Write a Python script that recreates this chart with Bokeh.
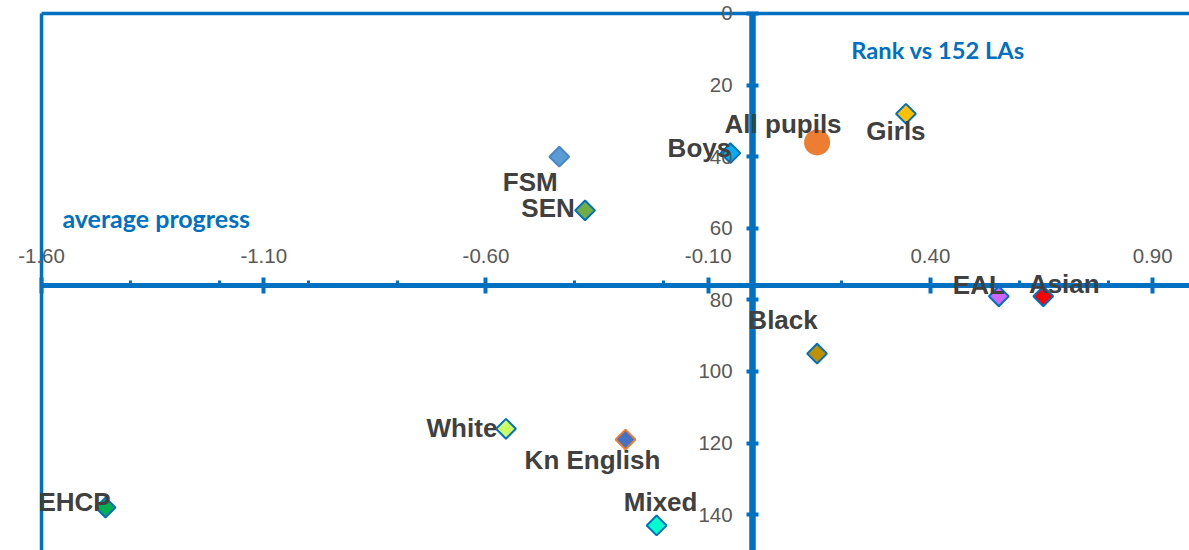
import math
from bokeh.plotting import figure
from bokeh.models import (ColumnDataSource, Range1d, LinearAxis, FixedTicker,
                          PrintfTickFormatter, Label)
from bokeh.core.properties import value
from bokeh.embed import file_html
from bokeh.resources import INLINE

# ---- data ----
groups = ["Boys", "Girls", "FSM", "SEN", "EHCP", "White", "Kn English",
          "Mixed", "Black", "EAL", "Asian"]
avg_progress = [-0.05, 0.345, -0.435, -0.377, -1.456, -0.555, -0.286,
                -0.216, 0.145, 0.554, 0.654]
rank = [39, 28, 40, 55, 138, 116, 119, 143, 95, 79, 79]

all_label = ["All pupils"]
all_progress = [0.145]
all_rank = [36]

x_ticks = [-1.6, -1.1, -0.6, -0.1, 0.4, 0.9]
x_minor = [-1.4, -1.2, -1.0, -0.8, -0.4, -0.2, 0.0, 0.2, 0.6, 0.8]
y_ticks = [0, 20, 40, 60, 80, 100, 120, 140]
x_min, x_max = -1.6, 0.983     # plot-area extent (visible part)
y_min, y_max = 0, 150
x_cross, y_cross = 0, 76        # where the axes cross

# ---- styles (separate from data) ----
fills = ["#00B0F0", "#FFC000", "#5B9BD5", "#70AD47", "#00B050", "#CCFF66",
         "#4472C4", "#00FFCC", "#BF9000", "#CC66FF", "#FF0000"]
lines = ["#0070C0", "#0070C0", "#4A86C5", "#0070C0", "#0070C0", "#0070C0",
         "#ED7D31", "#0070C0", "#0070C0", "#0070C0", "#0070C0"]
# label offsets in screen pixels (dx, dy-down)
lab_dx = [-31, -10, -29, -37, -31, -44, -33, 4, -34, -20, 21]
lab_dy = [-5, 17, 25, -2, -6, -1, 20, -23, -34, -11, -12]
all_dx = [-34]
all_dy = [-18]

BLUE = "#0070C0"
PAD_X = 0.0923   # room left of the plot area for the first tick label
PAD_Y = 3.63     # room above the plot area for the "0" label

p = figure(width=1189, height=550, output_backend="svg", toolbar_location=None,
           x_range=Range1d(x_min - PAD_X, x_max),
           y_range=Range1d(y_max, y_min - PAD_Y),
           x_axis_location=None, y_axis_location=None,
           min_border_left=0, min_border_top=0, min_border_right=0,
           min_border_bottom=0)
p.outline_line_color = None
p.xgrid.visible = False
p.ygrid.visible = False
p.background_fill_color = "white"
p.border_fill_color = "white"

# plot-area border (top and left visible)
p.segment(x0=[x_min, x_min], y0=[y_min, y_min], x1=[x_max, x_min],
          y1=[y_min, y_max], line_color=BLUE, line_width=3.5)

lab_font = dict(major_label_text_font="Liberation Sans",
                major_label_text_font_size="20.5px",
                major_label_text_color="#595959")

xaxis = LinearAxis(fixed_location=y_cross, bounds=(x_min, x_max),
                   ticker=FixedTicker(ticks=x_ticks, minor_ticks=x_minor),
                   formatter=PrintfTickFormatter(format="%.2f"),
                   axis_line_color=BLUE, axis_line_width=5,
                   major_tick_line_color=BLUE, major_tick_line_width=4,
                   major_tick_in=8, major_tick_out=8,
                   minor_tick_line_color=BLUE, minor_tick_line_width=3,
                   minor_tick_in=0, minor_tick_out=5,
                   major_label_standoff=15, **lab_font)
p.add_layout(xaxis, "above")

yaxis = LinearAxis(fixed_location=x_cross, bounds=(y_min, y_max),
                   ticker=FixedTicker(ticks=y_ticks, minor_ticks=[]),
                   axis_line_color=BLUE, axis_line_width=6.5,
                   major_tick_line_color=BLUE, major_tick_line_width=4,
                   major_tick_in=6, major_tick_out=6,
                   minor_tick_in=0, minor_tick_out=0,
                   major_label_standoff=14, **lab_font)
p.add_layout(yaxis, "left")

src = ColumnDataSource(dict(x=avg_progress, y=rank, name=groups, fill=fills,
                            line=lines, dx=lab_dx, dy=lab_dy))
all_src = ColumnDataSource(dict(x=all_progress, y=all_rank, name=all_label,
                                dx=all_dx, dy=all_dy))

p.scatter("x", "y", source=src, marker="square", angle=math.pi / 4, size=14,
          fill_color="fill", line_color="line", line_width=2)
p.scatter("x", "y", source=all_src, marker="circle", size=26,
          fill_color="#ED7D31", line_color=None)

txt = dict(text_font=value("Liberation Sans"), text_font_style="bold",
           text_font_size="26px", text_color="#404040", text_align="center",
           text_baseline="middle", level="overlay")
p.text("x", "y", text="name", x_offset="dx", y_offset="dy", source=src, **txt)
p.text("x", "y", text="name", x_offset="dx", y_offset="dy", source=all_src, **txt)

title_font = dict(text_font="Lato", text_font_style="bold",
                  text_color=BLUE, text_baseline="middle", text_align="left")
p.add_layout(Label(x=-1.553, y=57, text="average progress",
                   text_font_size="25px", **title_font))
p.add_layout(Label(x=0.222, y=10.3, text="Rank vs 152 LAs",
                   text_font_size="23.7px", **title_font))

open("out.html", "w").write(file_html(p, INLINE))
